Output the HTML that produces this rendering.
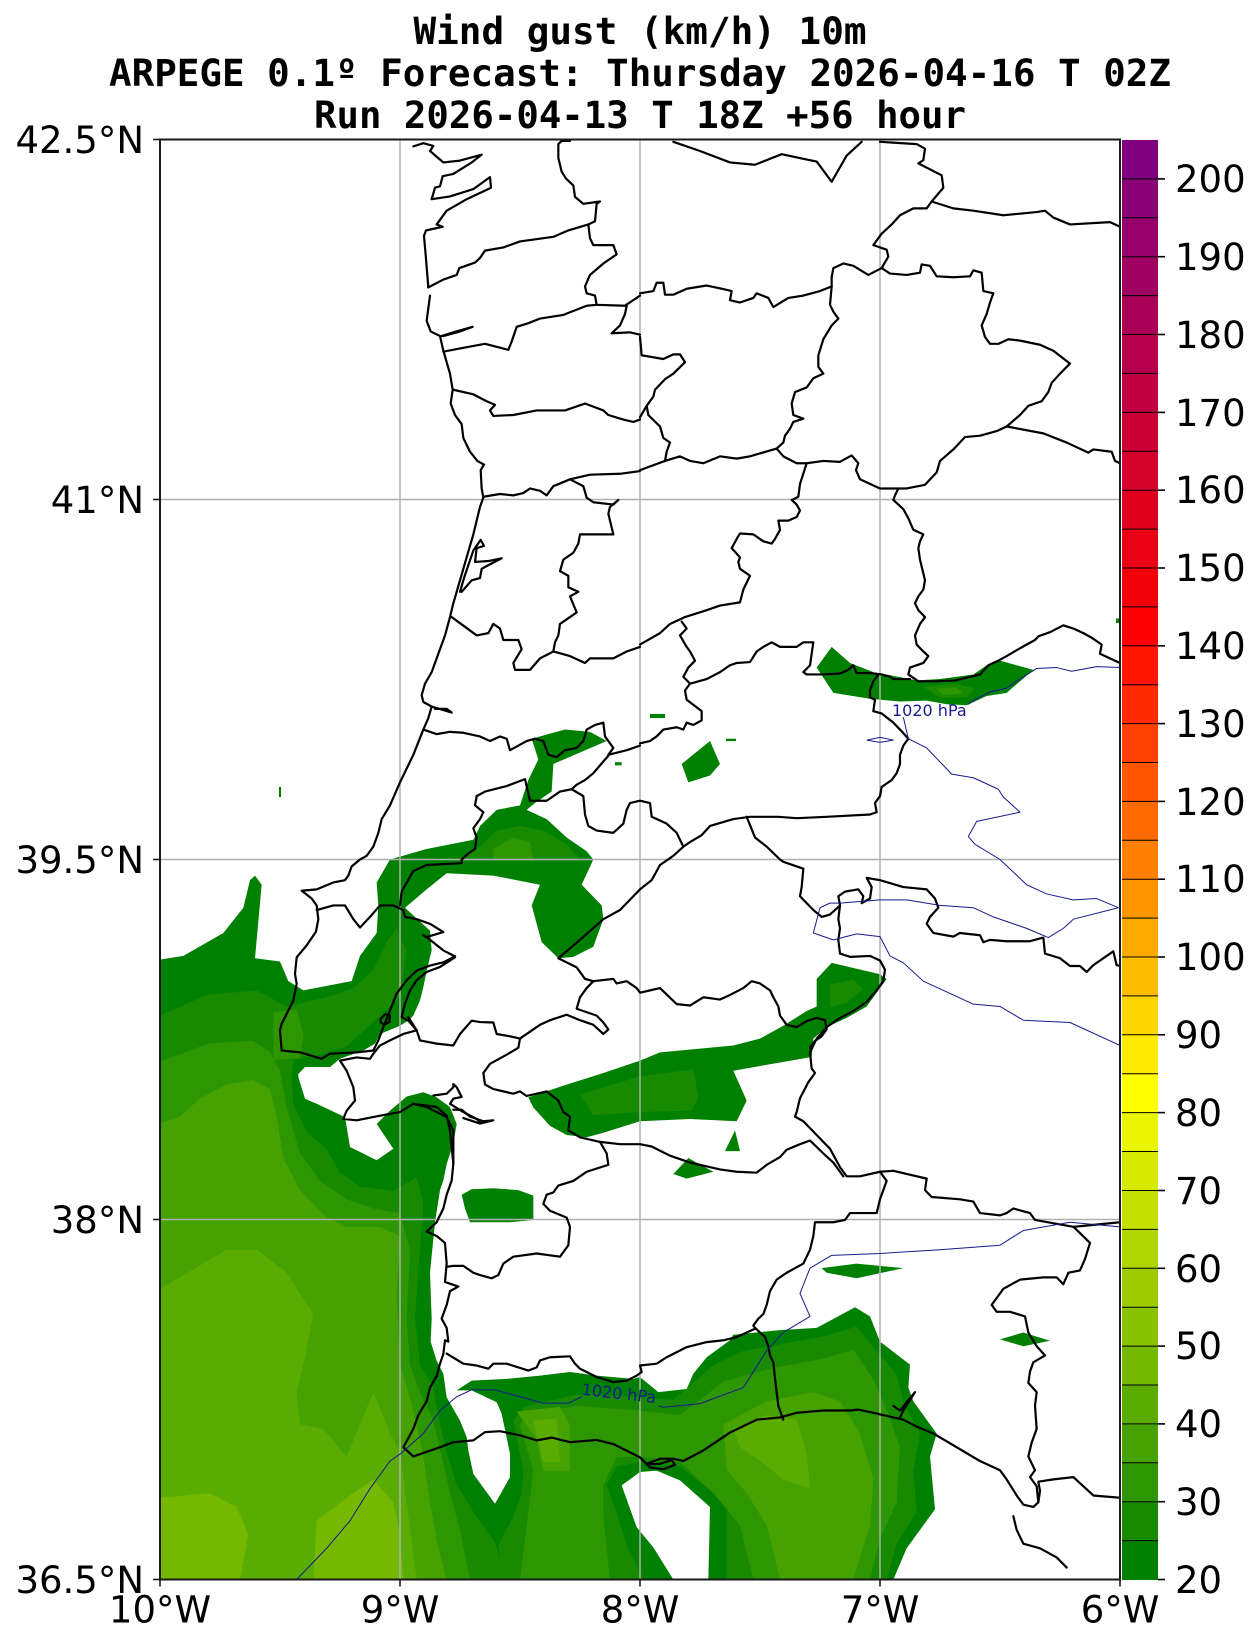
<!DOCTYPE html>
<html><head><meta charset="utf-8"><title>Wind gust ARPEGE</title>
<style>
html,body{margin:0;padding:0;background:#fff}
svg{display:block}
.b{fill:none;stroke:#000;stroke-width:2.2px;stroke-linejoin:round;stroke-linecap:round;vector-effect:non-scaling-stroke}
.u{fill:none;stroke:#1a1a8c;stroke-width:1px;stroke-linejoin:round;vector-effect:non-scaling-stroke}
.gr{stroke:#b0b0b0;stroke-width:1.5px;vector-effect:non-scaling-stroke}
</style></head><body>
<svg xmlns="http://www.w3.org/2000/svg" width="1259" height="1646" viewBox="0 0 1259 1646">
<rect width="1259" height="1646" fill="#fff"/>
<g font-family="'DejaVu Sans Mono','Liberation Mono',monospace" font-weight="bold" font-size="37.5" text-anchor="middle" fill="#000">
<text x="640" y="44" textLength="453" lengthAdjust="spacingAndGlyphs">Wind gust (km/h) 10m</text>
<text x="640" y="86" textLength="1062" lengthAdjust="spacingAndGlyphs">ARPEGE 0.1º Forecast: Thursday 2026-04-16 T 02Z</text>
<text x="640" y="128" textLength="652" lengthAdjust="spacingAndGlyphs">Run 2026-04-13 T 18Z +56 hour</text>
</g>
<defs>
<clipPath id="pc"><rect x="0" y="0" width="2880" height="3136"/></clipPath>
<clipPath id="g0c"><polygon points="0,1786 70,1778 190,1728 250,1673 270,1613 285,1603 305,1623 285,1783 360,1790 385,1833 430,1853 575,1833 600,1778 650,1728 655,1668 650,1618 690,1568 800,1545 940,1525 960,1495 1010,1460 1080,1450 1105,1395 1135,1350 1115,1305 1215,1285 1290,1290 1340,1310 1180,1360 1175,1420 1125,1445 1100,1460 1160,1480 1220,1520 1280,1550 1300,1568 1265,1623 1325,1668 1330,1698 1300,1758 1240,1780 1195,1783 1145,1748 1115,1668 1140,1623 1000,1603 860,1598 800,1633 735,1673 810,1723 815,1766 800,1810 790,1846 780,1875 760,1908 745,1919 720,1930 660,1948 645,1969 610,1984 540,2002 510,2020 435,2020 415,2035 415,2042 435,2089 470,2100 555,2129 570,2194 650,2223 700,2198 650,2144 690,2115 740,2084 790,2075 830,2086 870,2107 890,2144 880,2187 860,2231 850,2267 840,2288 825,2358 810,2468 815,2568 812,2618 830,2660 850,2688 860,2739 900,2790 920,2826 925,2855 940,2906 1005,2971 1050,2913 1050,2862 1025,2775 1010,2750 935,2724 890,2724 935,2703 1040,2699 1140,2692 1230,2684 1310,2692 1420,2699 1440,2695 1495,2728 1580,2721 1600,2688 1640,2652 1710,2615 1720,2603 1860,2593 1970,2588 2085,2543 2130,2563 2160,2618 2250,2668 2245,2718 2260,2748 2330,2818 2310,2868 2325,2983 2240,3068 2200,3136 0,3136"/></clipPath>
</defs>
<g transform="translate(160,139.5) scale(0.333333,0.459184)">
<g clip-path="url(#pc)">
<polygon fill="#008000" points="0,1786 70,1778 190,1728 250,1673 270,1613 285,1603 305,1623 285,1783 360,1790 385,1833 430,1853 575,1833 600,1778 650,1728 655,1668 650,1618 690,1568 800,1545 940,1525 960,1495 1010,1460 1080,1450 1105,1395 1135,1350 1115,1305 1215,1285 1290,1290 1340,1310 1180,1360 1175,1420 1125,1445 1100,1460 1160,1480 1220,1520 1280,1550 1300,1568 1265,1623 1325,1668 1330,1698 1300,1758 1240,1780 1195,1783 1145,1748 1115,1668 1140,1623 1000,1603 860,1598 800,1633 735,1673 810,1723 815,1766 800,1810 790,1846 780,1875 760,1908 745,1919 720,1930 660,1948 645,1969 610,1984 540,2002 510,2020 435,2020 415,2035 415,2042 435,2089 470,2100 555,2129 570,2194 650,2223 700,2198 650,2144 690,2115 740,2084 790,2075 830,2086 870,2107 890,2144 880,2187 860,2231 850,2267 840,2288 825,2358 810,2468 815,2568 812,2618 830,2660 850,2688 860,2739 900,2790 920,2826 925,2855 940,2906 1005,2971 1050,2913 1050,2862 1025,2775 1010,2750 935,2724 890,2724 935,2703 1040,2699 1140,2692 1230,2684 1310,2692 1420,2699 1440,2695 1495,2728 1580,2721 1600,2688 1640,2652 1710,2615 1720,2603 1860,2593 1970,2588 2085,2543 2130,2563 2160,2618 2250,2668 2245,2718 2260,2748 2330,2818 2310,2868 2325,2983 2240,3068 2200,3136 0,3136"/>
<g clip-path="url(#g0c)">
<g fill="#178a00">
<polygon points="0,1908 140,1863 290,1853 380,1888 500,1868 580,1848 640,1808 680,1748 710,1718 740,1768 720,1868 650,1915 560,1975 470,1995 400,2005 395,2050 400,2100 440,2160 500,2200 540,2250 600,2280 700,2290 770,2260 790,2318 780,2418 765,2568 780,2668 820,2718 835,2780 860,2860 890,2930 950,3000 1005,3055 1040,3136 0,3136"/>
<polygon points="1060,2790 1090,2760 1250,2733 1440,2738 1540,2745 1660,2670 1740,2640 1890,2620 2000,2605 2090,2585 2140,2630 2210,2690 2230,2750 2280,2818 2260,2898 2270,2988 2210,3058 2180,3136 1700,3136 1700,2970 1560,2890 1440,2880 1370,2890 1340,2930 1370,2990 1400,3060 1450,3136 1030,3136 1015,3060 1060,3000 1085,2950 1090,2900"/>
<polygon points="900,1570 960,1540 1010,1505 1080,1495 1150,1505 1220,1535 1260,1570"/>
</g>
<g fill="#2e9600">
<polygon points="0,2008 150,1968 280,1963 330,1988 360,2028 380,2108 420,2208 480,2268 560,2308 640,2328 720,2338 750,2418 740,2568 750,2668 780,2728 820,2790 845,2868 870,2948 900,3028 930,3136 0,3136"/>
<polygon points="340,1900 410,1895 430,1950 420,2000 340,2005"/>
<polygon points="1080,2800 1100,2775 1250,2758 1440,2768 1560,2778 1690,2705 1840,2675 1990,2655 2080,2635 2140,2700 2180,2768 2220,2848 2210,2968 2160,3048 2130,3136 1780,3136 1740,3018 1660,2948 1560,2880 1440,2868 1370,2870 1330,2930 1330,3000 1350,3136 1080,3136 1100,3018 1120,2898"/>
<polygon points="1000,1545 1060,1520 1110,1530 1120,1570 1000,1570"/>
</g>
<g fill="#46a200">
<polygon points="0,2143 60,2128 120,2088 200,2058 280,2048 330,2068 350,2128 370,2218 420,2288 500,2348 560,2368 660,2368 720,2388 710,2518 720,2668 760,2768 790,2868 810,2968 835,3068 860,3136 0,3136"/>
<polygon points="1690,2798 1820,2748 1960,2728 2040,2748 2100,2818 2140,2918 2130,3018 2080,3136 1860,3136 1820,3018 1760,2948 1700,2898"/>
<polygon points="1070,2770 1200,2760 1230,2800 1230,2900 1150,2900 1130,2830"/>
</g>
<g fill="#5aac00">
<polygon points="0,2503 200,2418 290,2418 380,2468 460,2558 430,2668 410,2728 420,2798 490,2808 560,2868 640,2728 690,2818 720,2858 740,2968 770,3136 0,3136"/>
<polygon points="1720,2808 1820,2778 1910,2788 1940,2858 1950,2938 1870,2918 1800,2878 1740,2848"/>
<polygon points="1120,2790 1190,2785 1200,2880 1150,2880"/>
</g>
<g fill="#74b800">
<polygon points="0,2958 150,2948 230,2978 265,3038 240,3136 0,3136"/>
<polygon points="470,3008 560,2958 640,2918 700,2968 720,3038 730,3136 460,3136"/>
</g>
</g>
<polygon fill="#fff" points="1385,2931 1440,2902 1490,2899 1560,2920 1650,2978 1645,3136 1540,3136 1480,3066 1430,3022"/>
<g fill="#008000">
<polygon points="905,2298 935,2286 1000,2284 1075,2288 1120,2300 1120,2353 1050,2358 930,2358 915,2328"/>
<polygon points="1105,2086 1200,2063 1330,2033 1440,2006 1500,1988 1720,1973 1800,1958 1870,1930 1940,1898 1970,1888 1970,1828 2015,1793 2160,1818 2180,1828 2140,1868 2120,1888 2060,1913 2000,1933 1960,1958 1955,1998 1720,2028 1760,2093 1730,2138 1590,2133 1440,2138 1330,2163 1280,2173 1220,2168 1170,2148 1120,2108"/>
<polygon points="1695,2203 1725,2158 1740,2203"/>
<polygon points="1540,2253 1585,2218 1660,2248 1580,2263"/>
<polygon points="1985,2458 2090,2448 2230,2458 2090,2480 2000,2468"/>
<polygon points="2520,2613 2590,2598 2670,2616 2590,2628"/>
<polygon points="2015,1105 2070,1140 2140,1160 2200,1168 2270,1178 2340,1175 2440,1165 2480,1145 2520,1135 2620,1155 2540,1205 2480,1212 2420,1232 2360,1230 2300,1222 2220,1224 2130,1218 2020,1205 1970,1150"/>
<polygon points="1565,1360 1650,1310 1680,1360 1650,1385 1585,1400"/>
<rect x="1470" y="1251" width="45" height="9"/>
<rect x="1698" y="1305" width="30" height="5"/>
<rect x="2868" y="1043" width="12" height="10"/>
<rect x="357" y="1410" width="6" height="22"/>
<rect x="1365" y="1356" width="20" height="7"/>
</g>
<g fill="#178a00">
<polygon points="1260,2080 1440,2040 1600,2025 1615,2085 1595,2115 1440,2118 1300,2125"/>
<polygon points="2010,1840 2080,1830 2110,1850 2060,1880 2010,1890"/>
<polygon points="2290,1192 2380,1185 2445,1195 2420,1215 2340,1216"/>
</g>
<g fill="#2e9600"><polygon points="2330,1196 2390,1193 2410,1206 2350,1210"/></g>
<line class="gr" x1="720" y1="0" x2="720" y2="3136"/>
<line class="gr" x1="1440" y1="0" x2="1440" y2="3136"/>
<line class="gr" x1="2160" y1="0" x2="2160" y2="3136"/>
<line class="gr" x1="0" y1="784" x2="2880" y2="784"/>
<line class="gr" x1="0" y1="1568" x2="2880" y2="1568"/>
<line class="gr" x1="0" y1="2352" x2="2880" y2="2352"/>
<polyline class="b" points="760,15 790,8 820,14 810,25 850,50 900,46 965,33 935,50 880,75 848,80 840,102 825,105 815,130 870,124 940,108 990,82 993,105 920,130 860,155 830,185 848,190 798,198 792,210 798,260 805,322"/>
<polyline class="b" points="805,322 850,305 890,295 898,280 945,268 960,258 975,242 1030,235 1080,222 1180,212 1225,198 1285,185 1305,178 1310,140 1320,135 1270,140 1245,125 1240,100 1218,85 1205,70 1195,40 1195,10 1205,3 1230,3"/>
<polyline class="b" points="1285,185 1290,215 1300,230 1360,230 1370,250 1330,270 1290,295 1275,320 1280,335 1305,340 1310,360 1395,362 1440,340"/>
<polyline class="b" points="810,340 800,395 812,418 840,428 850,460 870,510 878,545 872,575 885,600 905,620 910,650 930,680 952,700 972,708 962,720 965,760 970,780 960,800 940,860 920,910 900,960 880,1010 870,1040 855,1080 830,1130 815,1160 795,1185 785,1210 790,1225 815,1235 805,1260 790,1285 760,1340 720,1400 690,1450 665,1480 655,1510 640,1540 620,1560 600,1568 575,1583 565,1603 555,1613 520,1618 470,1633 425,1636 455,1653 470,1668 475,1698 468,1725 440,1755 410,1781 405,1817 410,1839 400,1875 380,1904 365,1926 360,1940 365,1984 420,1988 485,2002 510,1991 590,1988 640,1984 655,1962 670,1933 690,1897 710,1860 740,1831 770,1810 810,1799 850,1792 885,1779"/>
<polyline class="b" points="845,428 880,420 938,408 900,418 850,428"/>
<polyline class="b" points="850,462 900,455 975,445 1045,458 1055,440 1070,408 1105,400 1140,390 1210,382 1280,362 1310,360"/>
<polyline class="b" points="1400,362 1395,380 1380,405 1355,422 1410,420 1440,425"/>
<polyline class="b" points="880,545 940,555 980,570 1005,578 990,590 1000,602 1060,600 1130,590 1215,590 1275,575 1330,590 1345,600 1390,610 1420,615 1440,610"/>
<polyline class="b" points="970,778 1020,772 1060,775 1090,770 1110,760 1140,765 1160,775 1180,755 1230,740 1290,730 1380,728 1440,722"/>
<polyline class="b" points="1230,740 1270,755 1280,780 1300,790 1360,795 1375,785 1350,800 1345,815 1360,860 1330,860 1260,860 1255,880 1240,900 1210,915 1200,940 1225,950 1225,975 1255,985 1230,995 1250,1030 1200,1055 1195,1080 1185,1095 1180,1115 1140,1130 1110,1155 1065,1155 1060,1140 1085,1110 1075,1090 1030,1090 1020,1065 1000,1055 985,1075 950,1080 875,1040"/>
<polyline class="b" points="1180,1115 1230,1125 1275,1140 1290,1130 1360,1130 1400,1115 1440,1105"/>
<polyline class="b" points="900,985 912,955 940,895 962,872 972,885 950,890 945,920 985,918 1025,912 990,925 965,935 960,955 935,960 905,985"/>
<polyline class="b" points="815,1235 875,1248 860,1240 825,1240"/>
<polyline class="b" points="790,1285 830,1295 870,1290 910,1292 960,1300 990,1310 1020,1300 1040,1305 1050,1330 1100,1310 1125,1305 1150,1310 1165,1340 1190,1345 1215,1330 1250,1325 1270,1310 1280,1285 1305,1275 1330,1270 1335,1300 1360,1325 1345,1340 1400,1330 1440,1320"/>
<polyline class="b" points="950,1430 975,1420 1040,1408 1095,1393 1110,1440 1160,1440 1200,1420 1235,1415 1250,1405 1275,1395 1300,1380 1345,1342"/>
<polyline class="b" points="1235,1415 1270,1430 1275,1470 1285,1495 1310,1505 1360,1510 1390,1490 1400,1460 1410,1445 1440,1440 1470,1445 1475,1475 1520,1490 1550,1510 1570,1540"/>
<polyline class="b" points="950,1430 945,1450 970,1465 960,1480 940,1500 950,1520 945,1545 925,1555 905,1568 905,1576 800,1580 760,1593 725,1638 720,1668"/>
<polyline class="b" points="1540,5 1620,25 1710,50 1785,55 1865,32 1930,42 1970,48 2015,92 2060,35 2105,5"/>
<polyline class="b" points="2160,5 2270,10 2295,20 2290,45 2275,52 2345,78 2350,105 2315,135 2300,150 2260,150 2220,165 2195,185 2165,205 2140,230 2180,240 2185,255 2165,280 2190,292 2240,295 2280,290 2285,272 2310,275 2330,298 2380,300 2430,298 2440,285 2465,290 2470,330 2500,335 2490,355 2480,380 2465,405 2475,430 2490,445 2515,445 2545,435 2580,438 2640,447 2680,460 2730,488 2700,510 2675,530 2665,550 2645,570 2605,580 2580,600 2540,625 2510,635 2460,645 2415,648 2380,675 2340,700 2330,725 2295,752 2240,760 2160,760 2100,740 2088,720 2095,705 2075,688 2040,702 1990,700 1940,705 1910,705 1870,690 1850,673 1770,690 1730,695 1680,690 1630,705 1590,700 1560,690 1515,700 1440,720"/>
<polyline class="b" points="2315,135 2380,150 2440,155 2530,165 2630,158 2655,155 2680,170 2730,185 2850,180 2880,190"/>
<polyline class="b" points="2540,625 2650,640 2720,660 2785,682 2800,675 2855,680 2865,700 2880,705"/>
<polyline class="b" points="2165,280 2125,295 2080,275 2050,270 2020,280 2015,300 2015,320 1980,330 1930,340 1885,345 1840,365 1825,345 1790,335 1780,345 1740,355 1710,350 1715,330 1685,325 1640,318 1580,325 1540,338 1515,338 1510,312 1490,312 1480,330 1440,335"/>
<polyline class="b" points="2015,320 2010,360 2020,375 2035,390 2015,405 1990,435 1975,470 1975,495 1990,510 1960,520 1940,540 1905,550 1895,575 1900,600 1930,608 1900,615 1890,630 1875,645 1870,660 1850,673"/>
<polyline class="b" points="1440,430 1445,470 1510,478 1540,468 1560,468 1575,485 1540,510 1515,522 1485,545 1480,560 1460,580 1440,605"/>
<polyline class="b" points="1460,580 1465,600 1500,625 1510,650 1530,660 1520,680 1515,700"/>
<polyline class="b" points="1940,705 1920,750 1915,778 1895,785 1910,795 1920,808 1910,822 1885,830 1855,830 1860,850 1845,870 1835,880 1810,875 1780,860 1740,858 1730,870 1715,890 1740,910 1735,920 1740,935 1770,950 1750,980 1740,1008 1680,1015 1640,1025 1575,1040 1530,1055 1500,1075 1440,1100"/>
<polyline class="b" points="2215,760 2205,775 2200,785 2230,805 2245,825 2260,850 2290,860 2280,875 2275,890 2280,915 2295,960 2290,980 2275,995 2265,1010 2275,1025 2295,1040 2280,1055 2265,1080 2270,1100 2290,1115 2305,1125 2290,1140 2250,1150 2245,1165 2275,1180 2320,1180 2385,1178 2420,1172 2460,1165 2485,1145 2515,1135 2540,1125 2580,1108 2625,1090 2635,1082 2670,1073 2710,1058 2740,1065 2770,1075 2795,1085 2825,1100 2820,1120 2850,1130 2880,1140"/>
<polyline class="b" points="1565,1050 1580,1065 1560,1080 1580,1105 1590,1115 1605,1135 1585,1150 1570,1170 1590,1185 1575,1200 1580,1220 1625,1245 1625,1265 1600,1275 1580,1270 1570,1285 1550,1280 1510,1285 1490,1300 1470,1310 1440,1315"/>
<polyline class="b" points="1590,1185 1640,1175 1680,1160 1710,1145 1730,1140 1770,1138 1790,1115 1810,1105 1835,1095 1860,1105 1910,1105 1930,1095 1960,1095 1950,1145 1930,1160 1940,1165 1985,1165 2040,1163 2065,1155 2080,1145 2090,1162 2130,1162 2165,1165 2190,1170 2200,1175 2250,1175"/>
<polyline class="b" points="2155,1165 2140,1180 2130,1200 2130,1215 2145,1220 2140,1245 2165,1250 2200,1270 2220,1285 2245,1305 2230,1320 2220,1340 2220,1360 2210,1380 2195,1395 2165,1410 2160,1430 2145,1445 2150,1465 2130,1470 2000,1475 1910,1478 1855,1475 1770,1475 1720,1480 1650,1495 1625,1515 1590,1530 1570,1540 1540,1560 1500,1580 1475,1613 1440,1633 1420,1648 1380,1678 1330,1698 1260,1743 1195,1783 1250,1803 1275,1828 1300,1833"/>
<polyline class="b" points="1760,1475 1785,1520 1820,1540 1860,1568 1870,1573 1930,1588 1925,1628 1920,1648 1960,1678 1985,1693 2010,1688 2040,1668 2035,1648 2055,1638 2095,1633 2110,1648 2105,1663 2130,1653 2135,1628 2120,1608 2160,1613 2230,1628 2300,1633 2325,1653 2335,1673 2310,1693 2300,1708 2320,1728 2380,1736 2400,1728 2460,1733 2470,1748 2490,1743 2540,1746 2610,1746 2650,1738 2655,1773 2700,1783 2730,1800 2760,1800 2780,1813 2800,1798 2860,1768 2870,1798 2880,1800"/>
<polyline class="b" points="885,1781 840,1802 800,1813 770,1831 750,1853 735,1882 725,1911 745,1919 770,1940 730,1948 690,1962 660,1973 640,1991 630,2002 590,1999 540,2006 560,2028 580,2064 585,2093 560,2115 550,2133 590,2136 660,2126 720,2118 760,2100 800,2107 860,2129 880,2158 880,2231 875,2267 860,2298 850,2328 830,2358 800,2378 830,2388 855,2403 860,2448 855,2488 895,2498 870,2508 860,2538 845,2568 860,2588 865,2618 855,2615 850,2645 840,2666 830,2693 810,2718 800,2748 775,2778 760,2808 730,2848 760,2868 800,2858 840,2848 880,2837 940,2833 975,2815 1020,2813 1080,2822 1130,2833 1175,2827 1230,2837 1310,2832 1360,2841 1440,2870 1460,2884 1500,2873 1540,2873 1570,2878 1630,2855 1710,2816 1790,2788 1860,2783 1910,2773 1990,2768 2070,2768 2095,2766 2140,2773 2200,2783 2230,2788 2270,2803 2320,2818 2390,2848 2460,2878 2520,2898 2540,2918 2570,2953 2590,2973 2620,2978 2635,2968 2640,2943 2635,2923 2680,2918 2740,2913 2800,2953 2880,2958"/>
<polyline class="b" points="1445,2874 1470,2892 1510,2896 1545,2886 1535,2876 1500,2884 1468,2885"/>
<polyline class="b" points="790,1733 800,1737 850,1766 885,1779"/>
<polyline class="b" points="662,1915 675,1905 690,1908 688,1922 672,1928 662,1922 662,1915"/>
<polyline class="b" points="470,1678 520,1668 555,1668 580,1698 600,1716 630,1693 660,1668 700,1668 730,1678 735,1693 770,1698 810,1708 850,1726 800,1737"/>
<polyline class="b" points="745,1911 770,1940 780,1962 830,1969 880,1973 900,1948 935,1919 960,1922 1000,1923 1010,1948 1050,1953 1080,1958 1075,1978 1040,1993 990,2013 970,2033 975,2058 1000,2068 1060,2078 1080,2073 1100,2083 1160,2073 1195,2093 1210,2118 1230,2128 1225,2158 1260,2173 1320,2183 1340,2208 1345,2233 1280,2248 1240,2268 1195,2278 1180,2293 1160,2298 1150,2318 1170,2333 1220,2348 1230,2368 1225,2408 1200,2433 1130,2426 1060,2433 1030,2448 1015,2473 995,2480 960,2473 940,2468 910,2453 880,2453 860,2455"/>
<polyline class="b" points="1320,2183 1380,2188 1440,2188 1475,2193 1530,2213 1590,2228 1680,2243 1730,2248 1790,2250 1820,2233 1860,2216 1880,2200 1920,2188 1950,2180 1990,2208 2020,2228 2050,2258"/>
<polyline class="b" points="1080,1958 1140,1928 1170,1918 1220,1906 1260,1918 1300,1928 1330,1948 1345,1938 1330,1923 1310,1908 1250,1893 1260,1868 1280,1848 1300,1833 1360,1828 1370,1838 1400,1833 1430,1848 1440,1858 1470,1853 1500,1848 1550,1883 1590,1886 1630,1868 1680,1873 1710,1863 1750,1848 1775,1833 1800,1838 1830,1853 1840,1868 1855,1888 1860,1908 1880,1928 1910,1933 1940,1920 1970,1913 1995,1918 2000,1938 1985,1953 1965,1963 1950,1978"/>
<polyline class="b" points="860,2644 910,2666 950,2670 985,2677 1000,2666 1040,2666 1105,2681 1130,2674 1140,2659 1170,2652 1230,2650 1245,2666 1260,2677 1310,2695 1360,2706 1400,2703 1430,2692 1445,2684 1440,2670 1490,2666 1520,2652 1580,2630 1640,2619 1690,2615 1730,2608 1785,2590"/>
<polyline class="b" points="2040,1668 2035,1698 2040,1718 2035,1743 2040,1773 2070,1780 2130,1778 2160,1788 2175,1808 2170,1833 2150,1853 2120,1878 2080,1898 2040,1913 2000,1933 1970,1958 1950,1988 1955,2023 1965,2033 1945,2053 1920,2088 1910,2118 1905,2128 1930,2138 1970,2168 2010,2198 2040,2238 2060,2258 2100,2258 2160,2248 2200,2246 2300,2263 2295,2288 2315,2303 2400,2308 2440,2313 2460,2338 2520,2343 2540,2338 2560,2328 2610,2338 2625,2353 2740,2368 2880,2358"/>
<polyline class="b" points="2160,2248 2180,2268 2160,2308 2150,2338 2100,2338 2070,2338 2055,2353 2020,2358 1965,2358 1960,2388 1950,2418 1930,2448 1880,2468 1850,2483 1830,2508 1820,2538 1810,2558 1795,2568 1780,2583 1785,2588 1815,2608 1825,2628 1830,2648 1840,2663 1845,2698 1850,2728 1855,2758 1870,2788"/>
<polyline class="b" points="2740,2368 2755,2378 2790,2403 2775,2438 2760,2463 2725,2468 2710,2493 2690,2478 2650,2478 2580,2483 2530,2503 2495,2538 2510,2553 2550,2553 2595,2563 2605,2598 2630,2628 2655,2648 2620,2663 2610,2683 2605,2708 2630,2728 2625,2758 2630,2808 2615,2838 2605,2868 2625,2898 2610,2913 2630,2933 2635,2968"/>
<polyline class="b" points="2560,2998 2570,3028 2590,3058 2640,3068 2690,3088 2720,3110"/>
<polyline class="b" points="2200,2758 2220,2768 2265,2728 2230,2768 2220,2783"/>
<polyline class="b" points="880,2113 905,2113 930,2128 970,2138 1000,2136 960,2143 910,2131"/>
<polyline class="b" points="820,2082 860,2078 880,2064 880,2057 890,2064 900,2078 905,2085 880,2089 870,2100 910,2118 950,2133 960,2140"/>
<polyline class="b" points="760,2100 830,2107 860,2126 870,2158 875,2194 880,2231"/>
<polyline class="u" points="2880,1150 2810,1148 2735,1158 2690,1150 2630,1152 2570,1180 2540,1195 2490,1203 2440,1222 2425,1230"/>
<polyline class="u" points="2230,1258 2245,1305 2300,1325 2375,1382 2440,1390 2515,1415 2530,1432 2580,1465 2450,1485 2425,1518 2445,1535 2520,1568 2600,1623 2660,1643 2740,1656 2810,1653 2875,1673 2740,1698 2710,1718 2665,1738 2600,1718 2500,1693 2440,1673 2340,1668 2240,1656 2160,1656 2040,1663 2010,1663 1980,1673 1960,1728 2020,1743 2090,1730 2160,1736 2190,1778 2230,1793 2290,1833 2440,1883 2520,1888 2590,1918 2730,1923 2880,1973"/>
<polyline class="u" points="2120,1308 2160,1302 2200,1308 2160,1313 2120,1308"/>
<polyline class="u" points="2880,2368 2730,2358 2590,2376 2520,2408 2340,2418 2160,2426 2015,2430 1950,2458 1920,2513 1950,2563 1870,2598 1820,2638 1750,2718 1620,2753 1510,2761 1495,2758"/>
<polyline class="u" points="1265,2738 1225,2752 1150,2752 1005,2723 935,2723 890,2738 840,2768 790,2818 720,2863 690,2878 630,2938 570,3008 500,3068 410,3136"/>
</g>
</g>
<text x="892" y="716" font-family="'DejaVu Sans',sans-serif" font-size="16" fill="#1a1a8c">1020 hPa</text>
<text x="619" y="1399" font-family="'DejaVu Sans',sans-serif" font-size="16" fill="#1a1a8c" text-anchor="middle" transform="rotate(6.4 619 1393)">1020 hPa</text>
<rect x="160" y="139.5" width="960" height="1440" fill="none" stroke="#1a1a1a" stroke-width="2"/>
<g stroke="#1a1a1a" stroke-width="1.6">
<line x1="153" y1="139.5" x2="160" y2="139.5"/>
<line x1="153" y1="499.5" x2="160" y2="499.5"/>
<line x1="153" y1="859.5" x2="160" y2="859.5"/>
<line x1="153" y1="1219.5" x2="160" y2="1219.5"/>
<line x1="153" y1="1579.5" x2="160" y2="1579.5"/>
<line x1="160" y1="1579.5" x2="160" y2="1586.5"/>
<line x1="400" y1="1579.5" x2="400" y2="1586.5"/>
<line x1="640" y1="1579.5" x2="640" y2="1586.5"/>
<line x1="880" y1="1579.5" x2="880" y2="1586.5"/>
<line x1="1120" y1="1579.5" x2="1120" y2="1586.5"/>
</g>
<g font-family="'DejaVu Sans','Liberation Sans',sans-serif" font-size="37" fill="#000">
<g text-anchor="end">
<text x="144" y="153">42.5°N</text>
<text x="144" y="513">41°N</text>
<text x="144" y="873">39.5°N</text>
<text x="144" y="1233">38°N</text>
<text x="144" y="1593">36.5°N</text>
</g>
<g text-anchor="middle">
<text x="160" y="1622.5">10°W</text>
<text x="400" y="1622.5">9°W</text>
<text x="640" y="1622.5">8°W</text>
<text x="880" y="1622.5">7°W</text>
<text x="1120" y="1622.5">6°W</text>
</g>
</g>
<g>
<rect x="1122" y="1540.6" width="36" height="39.4" fill="#008000"/>
<rect x="1122" y="1501.7" width="36" height="39.4" fill="#178a00"/>
<rect x="1122" y="1462.8" width="36" height="39.4" fill="#2e9600"/>
<rect x="1122" y="1423.9" width="36" height="39.4" fill="#46a200"/>
<rect x="1122" y="1385.0" width="36" height="39.4" fill="#5aac00"/>
<rect x="1122" y="1346.1" width="36" height="39.4" fill="#74b800"/>
<rect x="1122" y="1307.2" width="36" height="39.4" fill="#88c200"/>
<rect x="1122" y="1268.3" width="36" height="39.4" fill="#9ccc00"/>
<rect x="1122" y="1229.4" width="36" height="39.4" fill="#afd600"/>
<rect x="1122" y="1190.5" width="36" height="39.4" fill="#c3e000"/>
<rect x="1122" y="1151.5" width="36" height="39.4" fill="#d7ea00"/>
<rect x="1122" y="1112.6" width="36" height="39.4" fill="#ebf500"/>
<rect x="1122" y="1073.7" width="36" height="39.4" fill="#ffff00"/>
<rect x="1122" y="1034.8" width="36" height="39.4" fill="#ffea00"/>
<rect x="1122" y="995.9" width="36" height="39.4" fill="#ffd400"/>
<rect x="1122" y="957.0" width="36" height="39.4" fill="#ffbf00"/>
<rect x="1122" y="918.1" width="36" height="39.4" fill="#ffaa00"/>
<rect x="1122" y="879.2" width="36" height="39.4" fill="#ff9500"/>
<rect x="1122" y="840.3" width="36" height="39.4" fill="#ff8000"/>
<rect x="1122" y="801.4" width="36" height="39.4" fill="#ff6a00"/>
<rect x="1122" y="762.5" width="36" height="39.4" fill="#ff5500"/>
<rect x="1122" y="723.6" width="36" height="39.4" fill="#ff4000"/>
<rect x="1122" y="684.7" width="36" height="39.4" fill="#ff2a00"/>
<rect x="1122" y="645.8" width="36" height="39.4" fill="#ff1500"/>
<rect x="1122" y="606.9" width="36" height="39.4" fill="#ff0000"/>
<rect x="1122" y="568.0" width="36" height="39.4" fill="#f4000b"/>
<rect x="1122" y="529.1" width="36" height="39.4" fill="#ea0015"/>
<rect x="1122" y="490.2" width="36" height="39.4" fill="#df0020"/>
<rect x="1122" y="451.3" width="36" height="39.4" fill="#d5002b"/>
<rect x="1122" y="412.4" width="36" height="39.4" fill="#ca0035"/>
<rect x="1122" y="373.4" width="36" height="39.4" fill="#c00040"/>
<rect x="1122" y="334.5" width="36" height="39.4" fill="#b5004b"/>
<rect x="1122" y="295.6" width="36" height="39.4" fill="#aa0055"/>
<rect x="1122" y="256.7" width="36" height="39.4" fill="#a00060"/>
<rect x="1122" y="217.8" width="36" height="39.4" fill="#95006b"/>
<rect x="1122" y="178.9" width="36" height="39.4" fill="#8a0075"/>
<rect x="1122" y="140.0" width="36" height="38.9" fill="#800080"/>
</g>
<g stroke="#000" stroke-width="1">
<line x1="1122" y1="1540.6" x2="1158" y2="1540.6"/><line x1="1122" y1="1501.7" x2="1158" y2="1501.7"/><line x1="1122" y1="1462.8" x2="1158" y2="1462.8"/><line x1="1122" y1="1423.9" x2="1158" y2="1423.9"/><line x1="1122" y1="1385.0" x2="1158" y2="1385.0"/><line x1="1122" y1="1346.1" x2="1158" y2="1346.1"/><line x1="1122" y1="1307.2" x2="1158" y2="1307.2"/><line x1="1122" y1="1268.3" x2="1158" y2="1268.3"/><line x1="1122" y1="1229.4" x2="1158" y2="1229.4"/><line x1="1122" y1="1190.5" x2="1158" y2="1190.5"/><line x1="1122" y1="1151.5" x2="1158" y2="1151.5"/><line x1="1122" y1="1112.6" x2="1158" y2="1112.6"/><line x1="1122" y1="1073.7" x2="1158" y2="1073.7"/><line x1="1122" y1="1034.8" x2="1158" y2="1034.8"/><line x1="1122" y1="995.9" x2="1158" y2="995.9"/><line x1="1122" y1="957.0" x2="1158" y2="957.0"/><line x1="1122" y1="918.1" x2="1158" y2="918.1"/><line x1="1122" y1="879.2" x2="1158" y2="879.2"/><line x1="1122" y1="840.3" x2="1158" y2="840.3"/><line x1="1122" y1="801.4" x2="1158" y2="801.4"/><line x1="1122" y1="762.5" x2="1158" y2="762.5"/><line x1="1122" y1="723.6" x2="1158" y2="723.6"/><line x1="1122" y1="684.7" x2="1158" y2="684.7"/><line x1="1122" y1="645.8" x2="1158" y2="645.8"/><line x1="1122" y1="606.9" x2="1158" y2="606.9"/><line x1="1122" y1="568.0" x2="1158" y2="568.0"/><line x1="1122" y1="529.1" x2="1158" y2="529.1"/><line x1="1122" y1="490.2" x2="1158" y2="490.2"/><line x1="1122" y1="451.3" x2="1158" y2="451.3"/><line x1="1122" y1="412.4" x2="1158" y2="412.4"/><line x1="1122" y1="373.4" x2="1158" y2="373.4"/><line x1="1122" y1="334.5" x2="1158" y2="334.5"/><line x1="1122" y1="295.6" x2="1158" y2="295.6"/><line x1="1122" y1="256.7" x2="1158" y2="256.7"/><line x1="1122" y1="217.8" x2="1158" y2="217.8"/><line x1="1122" y1="178.9" x2="1158" y2="178.9"/>
</g>
<g stroke="#000" stroke-width="1.6">
<line x1="1158" y1="1579.5" x2="1165" y2="1579.5"/><line x1="1158" y1="1501.7" x2="1165" y2="1501.7"/><line x1="1158" y1="1423.9" x2="1165" y2="1423.9"/><line x1="1158" y1="1346.1" x2="1165" y2="1346.1"/><line x1="1158" y1="1268.3" x2="1165" y2="1268.3"/><line x1="1158" y1="1190.5" x2="1165" y2="1190.5"/><line x1="1158" y1="1112.6" x2="1165" y2="1112.6"/><line x1="1158" y1="1034.8" x2="1165" y2="1034.8"/><line x1="1158" y1="957.0" x2="1165" y2="957.0"/><line x1="1158" y1="879.2" x2="1165" y2="879.2"/><line x1="1158" y1="801.4" x2="1165" y2="801.4"/><line x1="1158" y1="723.6" x2="1165" y2="723.6"/><line x1="1158" y1="645.8" x2="1165" y2="645.8"/><line x1="1158" y1="568.0" x2="1165" y2="568.0"/><line x1="1158" y1="490.2" x2="1165" y2="490.2"/><line x1="1158" y1="412.4" x2="1165" y2="412.4"/><line x1="1158" y1="334.5" x2="1165" y2="334.5"/><line x1="1158" y1="256.7" x2="1165" y2="256.7"/><line x1="1158" y1="178.9" x2="1165" y2="178.9"/>
</g>
<g font-family="'DejaVu Sans','Liberation Sans',sans-serif" font-size="37" fill="#000">
<text x="1175" y="1593">20</text>
<text x="1175" y="1515">30</text>
<text x="1175" y="1437">40</text>
<text x="1175" y="1359">50</text>
<text x="1175" y="1282">60</text>
<text x="1175" y="1204">70</text>
<text x="1175" y="1126">80</text>
<text x="1175" y="1048">90</text>
<text x="1175" y="970">100</text>
<text x="1175" y="892">110</text>
<text x="1175" y="815">120</text>
<text x="1175" y="737">130</text>
<text x="1175" y="659">140</text>
<text x="1175" y="581">150</text>
<text x="1175" y="503">160</text>
<text x="1175" y="426">170</text>
<text x="1175" y="348">180</text>
<text x="1175" y="270">190</text>
<text x="1175" y="192">200</text>
</g>
</svg>
</body></html>
